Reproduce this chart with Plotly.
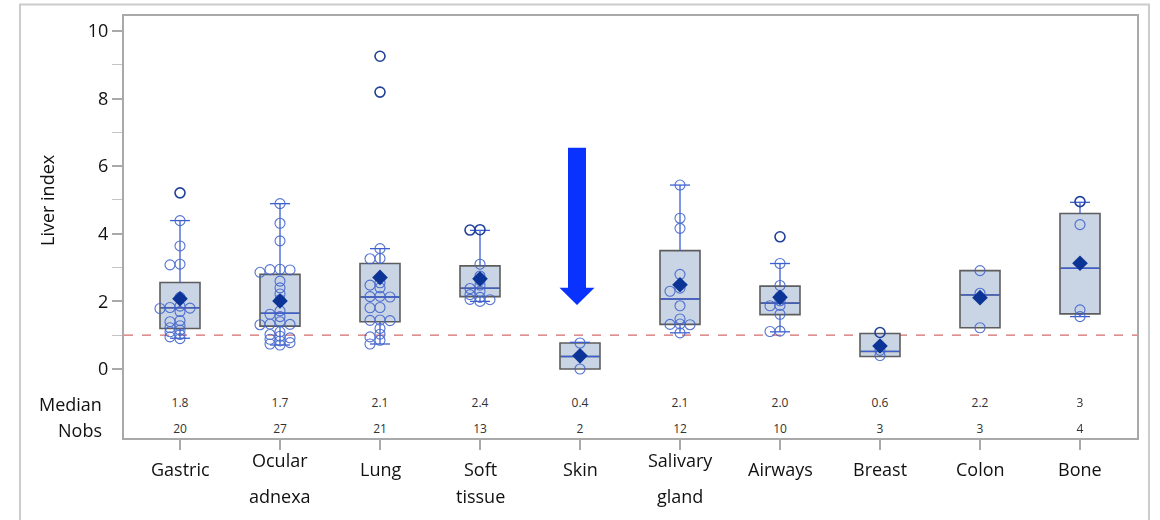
import plotly.graph_objects as go

# ---------------- data ----------------
categories = ["Gastric", "Ocular adnexa", "Lung", "Soft tissue", "Skin",
              "Salivary gland", "Airways", "Breast", "Colon", "Bone"]
label_line1 = ["Gastric", "Ocular", "Lung", "Soft", "Skin",
               "Salivary", "Airways", "Breast", "Colon", "Bone"]
label_line2 = ["", "adnexa", "", "tissue", "", "gland", "", "", "", ""]

gastric = [5.21, 4.39, 3.64, 3.10, 3.08, 2.12, 1.86, 1.82, 1.80, 1.79,
           1.70, 1.43, 1.40, 1.28, 1.22, 1.15, 1.10, 1.02, 0.95, 0.90]
ocular = [4.89, 4.31, 3.79, 2.95, 2.94, 2.93, 2.86, 2.40, 2.22, 2.05,
          1.72, 1.62, 1.55, 1.40, 1.33, 1.32, 1.31, 1.10, 1.02, 0.97,
          0.92, 0.88, 0.83, 0.78, 0.74, 0.71, 2.60]
lung = [9.25, 8.19, 3.56, 3.27, 3.26, 2.55, 2.48, 2.40, 2.15, 2.14,
        2.13, 1.82, 1.81, 1.45, 1.44, 1.43, 1.20, 1.03, 0.95, 0.85, 0.74]
soft_tissue = [4.12, 4.11, 3.10, 2.75, 2.62, 2.48, 2.38, 2.30, 2.20,
               2.12, 2.06, 2.05, 2.00]
skin = [0.77, 0.00]
salivary = [5.44, 4.46, 4.16, 2.80, 2.39, 2.30, 1.87, 1.48, 1.33, 1.32,
            1.31, 1.07]
airways = [3.91, 3.12, 2.47, 2.15, 2.02, 1.88, 1.87, 1.62, 1.12, 1.11]
breast = [1.08, 0.55, 0.40]
colon = [2.91, 2.24, 1.22]
bone = [4.95, 4.27, 1.75, 1.55]
points = [gastric, ocular, lung, soft_tissue, skin, salivary, airways,
          breast, colon, bone]

q1 = [1.20, 1.27, 1.40, 2.14, 0.00, 1.32, 1.61, 0.37, 1.22, 1.63]
median = [1.81, 1.65, 2.13, 2.39, 0.37, 2.07, 1.95, 0.52, 2.19, 2.98]
q3 = [2.56, 2.80, 3.12, 3.05, 0.77, 3.50, 2.45, 1.05, 2.91, 4.60]
whisk_lo = [0.91, 0.71, 0.74, 2.00, 0.00, 1.07, 1.10, 0.37, 1.22, 1.55]
whisk_hi = [4.39, 4.89, 3.56, 4.10, 0.79, 5.44, 3.12, 1.05, 2.91, 4.93]
means = [2.08, 2.01, 2.71, 2.67, 0.39, 2.49, 2.12, 0.68, 2.11, 3.13]
median_labels = ["1.8", "1.7", "2.1", "2.4", "0.4", "2.1", "2.0", "0.6", "2.2", "3"]
nobs = [20, 27, 21, 13, 2, 12, 10, 3, 3, 4]
ref_value = 1.0

# ---------------- style ----------------
FONT = "Open Sans"
W, H = 1160, 520
ML, MR, MT, MB = 124, 23, 16, 82
XR = [-0.56, 9.57]
YR = [-2.04, 10.44]
PT_COLOR = "#3f63cc"
OUT_COLOR = "#21409a"
MEAN_COLOR = "#0b3496"
LINE_BLUE = "#3b5fd0"
BOX_FILL = "#c9d5e4"
BOX_LINE = "#5d5d5d"
FRAME = "#a9a9a9"
BOX_W = 0.4
CAP_HALF = 0.1

plot_w = W - ML - MR
plot_h = H - MT - MB
px_x = plot_w / (XR[1] - XR[0])
px_y = plot_h / (YR[1] - YR[0])


def swarm(values, centre):
    """offset near-identical values side by side (SAS-like cluster)"""
    placed = []
    xs = []
    step = 10.0 / px_x
    thr_v = 4.0
    for v in values:
        for k in [0, -1, 1, -2, 2, -3, 3]:
            ok = True
            for pv, pk in placed:
                if pk == k and abs(pv - v) * px_y < thr_v:
                    ok = False
                    break
            if ok:
                break
        placed.append((v, k))
        xs.append(centre + k * step)
    return xs


fig = go.Figure()
xpos = list(range(len(categories)))

# boxes
fig.add_trace(go.Box(
    x=xpos, q1=q1, median=median, q3=q3, lowerfence=q1, upperfence=q3,
    width=BOX_W, fillcolor=BOX_FILL, line=dict(color=BOX_LINE, width=1.6),
    boxpoints=False, hoverinfo="skip", showlegend=False))

# whiskers, caps, median (blue)
wx, wy = [], []
for i in xpos:
    wx += [i, i, None, i, i, None]
    wy += [q3[i], whisk_hi[i], None, q1[i], whisk_lo[i], None]
    if abs(whisk_hi[i] - q3[i]) > 0.005:
        wx += [i - CAP_HALF, i + CAP_HALF, None]
        wy += [whisk_hi[i], whisk_hi[i], None]
    if abs(whisk_lo[i] - q1[i]) > 0.005:
        wx += [i - CAP_HALF, i + CAP_HALF, None]
        wy += [whisk_lo[i], whisk_lo[i], None]
    wx += [i - BOX_W / 2 + 0.01, i + BOX_W / 2 - 0.01, None]
    wy += [median[i], median[i], None]
fig.add_trace(go.Scatter(x=wx, y=wy, mode="lines",
                         line=dict(color=LINE_BLUE, width=1.3),
                         hoverinfo="skip", showlegend=False))

# data points
px_in, py_in, px_out, py_out = [], [], [], []
for i, vals in enumerate(points):
    xs = swarm(vals, i)
    for xv, v in zip(xs, vals):
        if v > whisk_hi[i] + 0.01 or v < whisk_lo[i] - 0.01:
            px_out.append(xv); py_out.append(v)
        else:
            px_in.append(xv); py_in.append(v)
fig.add_trace(go.Scatter(x=px_in, y=py_in, mode="markers",
                         marker=dict(symbol="circle-open", size=10,
                                     color=PT_COLOR, line=dict(width=1.1)),
                         opacity=0.9, hoverinfo="y", showlegend=False))
fig.add_trace(go.Scatter(x=px_out, y=py_out, mode="markers",
                         marker=dict(symbol="circle-open", size=10,
                                     color=OUT_COLOR, line=dict(width=1.6)),
                         hoverinfo="y", showlegend=False))

# means
fig.add_trace(go.Scatter(x=xpos, y=means, mode="markers",
                         marker=dict(symbol="diamond", size=12, color=MEAN_COLOR),
                         hoverinfo="y", showlegend=False))

# median / nobs rows
fig.add_trace(go.Scatter(x=xpos, y=[-1.04] * len(xpos), mode="text",
                         text=median_labels,
                         textfont=dict(family=FONT, size=12, color="#333333"),
                         hoverinfo="skip", showlegend=False))
fig.add_trace(go.Scatter(x=xpos, y=[-1.80] * len(xpos), mode="text",
                         text=[str(n) for n in nobs],
                         textfont=dict(family=FONT, size=12, color="#333333"),
                         hoverinfo="skip", showlegend=False))

# reference line
fig.add_shape(type="line", xref="paper", x0=0, x1=1, yref="y",
              y0=ref_value, y1=ref_value, layer="below",
              line=dict(color="#d36b6b", width=1.2, dash="dash"))

# big blue arrow pointing at Skin
ax, sh, hh = 3.97, 0.09, 0.175
a_top, a_neck, a_tip = 6.54, 2.40, 1.89
path = (f"M {ax-sh},{a_top} L {ax+sh},{a_top} L {ax+sh},{a_neck} "
        f"L {ax+hh},{a_neck} L {ax},{a_tip} L {ax-hh},{a_neck} "
        f"L {ax-sh},{a_neck} Z")
fig.add_shape(type="path", path=path, xref="x", yref="y",
              fillcolor="#0a32ff", line=dict(width=0))


# outer frame
def pxx(p):
    return (p - ML) / plot_w


def pxy(p):
    return (H - MB - p) / plot_h


fig.add_shape(type="rect", xref="paper", yref="paper",
              x0=pxx(20), x1=pxx(1149), y0=pxy(530), y1=pxy(4.5),
              line=dict(color="#cccccc", width=2), fillcolor="rgba(0,0,0,0)")

# annotations: axis title, row labels, category labels
TXT = dict(family=FONT, size=18, color="#111111")
ann = []
ann.append(dict(text="Liver index", x=pxx(47), y=pxy(200), xref="paper",
                yref="paper", textangle=-90, showarrow=False,
                xanchor="center", yanchor="middle", font=TXT))
ann.append(dict(text="Median", x=pxx(104), y=pxy(404), xref="paper",
                yref="paper", xanchor="right", yanchor="middle",
                showarrow=False, font=TXT))
ann.append(dict(text="Nobs", x=pxx(104), y=pxy(430), xref="paper",
                yref="paper", xanchor="right", yanchor="middle",
                showarrow=False, font=TXT))
for i in xpos:
    raised = label_line1[i] in ("Ocular", "Salivary")
    y1 = 460 if raised else 469
    ann.append(dict(text=label_line1[i], x=i, y=pxy(y1), xref="x",
                    yref="paper", xanchor="center", yanchor="middle",
                    showarrow=False, font=TXT))
    if label_line2[i]:
        ann.append(dict(text=label_line2[i], x=i, y=pxy(496), xref="x",
                        yref="paper", xanchor="center", yanchor="middle",
                        showarrow=False, font=TXT))

fig.update_layout(
    width=W, height=H, margin=dict(l=ML, r=MR, t=MT, b=MB),
    paper_bgcolor="white", plot_bgcolor="white",
    annotations=ann, showlegend=False,
    font=dict(family=FONT, color="#111111"),
    xaxis=dict(range=XR, tickvals=xpos, showticklabels=False,
               ticks="outside", ticklen=10, tickcolor=FRAME, tickwidth=1.5,
               showgrid=False, zeroline=False, showline=True,
               linecolor=FRAME, linewidth=2, mirror=True, fixedrange=True),
    yaxis=dict(range=YR, tickvals=[0, 2, 4, 6, 8, 10],
               ticks="outside", ticklen=10, tickcolor=FRAME, tickwidth=1.5,
               tickfont=dict(family=FONT, size=18, color="#111111"),
               minor=dict(tickvals=[1, 3, 5, 7, 9], ticks="outside",
                          ticklen=10, tickcolor="#c4c4c4", tickwidth=1.2),
               showgrid=False, zeroline=False, showline=True,
               linecolor=FRAME, linewidth=2, mirror=True, fixedrange=True),
)

fig.write_html("out.html")
